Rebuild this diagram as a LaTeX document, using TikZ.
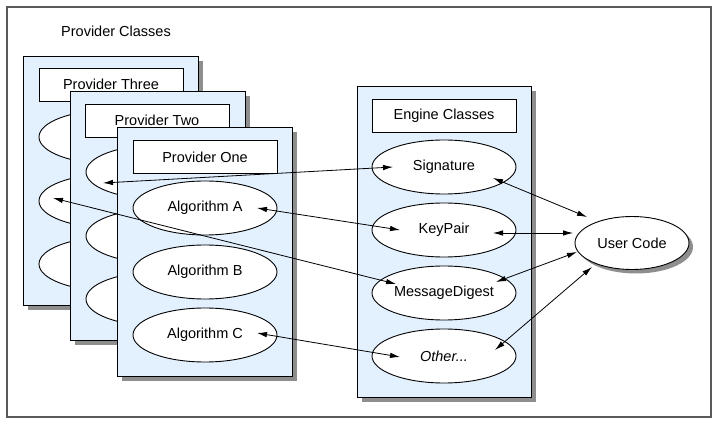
\documentclass[tikz,border=0pt]{standalone}
\usepackage{fontspec}
\setmainfont{Liberation Sans}
\usetikzlibrary{shapes.geometric,arrows.meta,calc,shadows}
\definecolor{panelfill}{HTML}{E3F1FF}
\definecolor{shadowc}{HTML}{8E8E8E}
\definecolor{framec}{HTML}{5A5A5A}
\begin{document}
\begin{tikzpicture}[x=1pt,y=-1pt,
  every node/.style={font=\fontsize{14.5}{17}\selectfont, inner sep=0pt, outer sep=0pt},
  panel/.style={draw=black, line width=0.9pt, fill=panelfill, minimum width=175, minimum height=249, anchor=north west,
    drop shadow={shadow xshift=5pt, shadow yshift=-5pt, fill=shadowc, opacity=1}},
  titlebox/.style={draw=black, fill=white, line width=0.9pt, minimum width=144, minimum height=33},
  algo/.style={ellipse, draw=black, fill=white, line width=0.9pt, minimum width=144, minimum height=54},
  link/.style={line width=0.8pt, {Latex[length=10pt,width=5.5pt]}-{Latex[length=10pt,width=5.5pt]}}
]
\useasboundingbox (0,0) rectangle (718,422);
\draw[framec, line width=1.4pt] (7,7) rectangle (711,417);

\node (title) at (116,31) {Provider Classes};

% Provider Three
\node[panel] (p3) at (23,56) {};
\node[titlebox] (t3) at ($(p3.north west)+(88,28.5)$) {Provider Three};
\node[algo] (p3a) at ($(p3.north west)+(88,81)$) {};
\node[algo] (p3b) at ($(p3.north west)+(88,145)$) {};
\node[algo] (p3c) at ($(p3.north west)+(88,208)$) {};

% Provider Two
\node[panel] (p2) at (70,91) {};
\node[titlebox] (t2) at ($(p2.north west)+(87,29.5)$) {Provider Two};
\node[algo] (p2a) at ($(p2.north west)+(88,81)$) {};
\node[algo] (p2b) at ($(p2.north west)+(88,145)$) {};
\node[algo] (p2c) at ($(p2.north west)+(88,208)$) {};

% Provider One
\node[panel] (p1) at (117,127) {};
\node[titlebox] (t1) at ($(p1.north west)+(88,30)$) {Provider One};
\node[algo] (algA) at ($(p1.north west)+(88,81)$) {Algorithm A};
\node[algo] (algB) at ($(p1.north west)+(88,145)$) {Algorithm B};
\node[algo] (algC) at ($(p1.north west)+(88,208)$) {Algorithm C};

% Engine classes
\node[panel, minimum width=174, minimum height=311] (eng) at (357,86) {};
\node[titlebox] (te) at (444,115.5) {Engine Classes};
\node[algo] (sig) at (444,167) {Signature};
\node[algo] (kp) at (444,230) {KeyPair};
\node[algo] (md) at (444,293) {MessageDigest};
\node[algo] (oth) at (444,356) {\itshape Other...};

% User code
\node[ellipse, draw=black, fill=white, line width=0.9pt, minimum width=114, minimum height=53,
  drop shadow={shadow xshift=4pt, shadow yshift=-4pt, fill=shadowc, opacity=1}] (user) at (632,243) {User Code};

% connectors
\draw[link] ($(p2a)+(-55,11)$) -- ($(sig)+(-51,0)$);
\draw[link] ($(algA)+(52,0)$) -- ($(kp)+(-44,0)$);
\draw[link] ($(p3b)+(-58,-3)$) -- ($(md)+(-48,-9)$);
\draw[link] ($(algC)+(52,-2)$) -- ($(oth)+(-44,1)$);
\draw[link] ($(sig)+(49,11)$) -- ($(user)+(-45,-26)$);
\draw[link] ($(kp)+(49,3)$) -- ($(user)+(-59,-10)$);
\draw[link] ($(md)+(52,-11)$) -- ($(user)+(-55,9)$);
\draw[link] ($(oth)+(51,-6)$) -- ($(user)+(-40,24)$);
\end{tikzpicture}
\end{document}
